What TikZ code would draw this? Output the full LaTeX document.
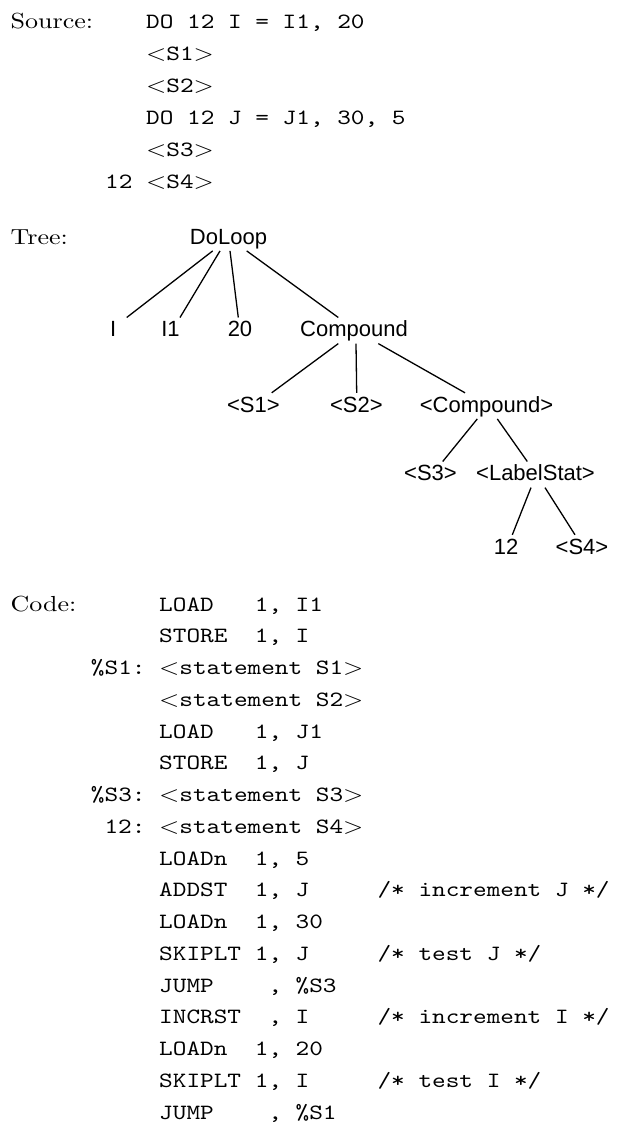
\documentclass[tikz,border=0pt]{standalone}
\usepackage{fontspec}
\usepackage{graphicx}
\newfontfamily\treefont{Liberation Sans}
\newcommand\myxs{2.6}
\newcommand\myys{2.18}
\newcommand\rmtxt[1]{\scalebox{\myxs}[\myys]{\rmfamily #1}}
\newcommand\ttline[1]{\scalebox{\myxs}[\myys]{\ttfamily #1}}
\newcommand\lt{\char"003C\relax}
\newcommand\gt{\char"003E\relax}
\tikzset{
  lbl/.style={anchor=base west, inner sep=0pt, font=\fontsize{10}{12}\selectfont},
  treenode/.style={anchor=base, inner sep=0pt, text height=19pt, text depth=6.7pt,
    font=\treefont\fontsize{22}{26}\selectfont},
  edge/.style={line width=1.3pt, black}
}
\begin{document}
\begin{tikzpicture}[x=1pt,y=-1pt]
\useasboundingbox (0,0) rectangle (621,1128);
% ---------- Source ----------
\node[lbl] (srclbl) at (10.5,28.5) {\rmtxt{Source:}};
\node[lbl] (src1) at (146,28.5)  {\ttline{DO\ 12\ I\ =\ I1,\ 20}};
\node[lbl] (src2) at (146,60.4)  {\ttline{$<$S1$>$}};
\node[lbl] (src3) at (146,92.3)  {\ttline{$<$S2$>$}};
\node[lbl] (src4) at (146,124.2) {\ttline{DO\ 12\ J\ =\ J1,\ 30,\ 5}};
\node[lbl] (src5) at (146,156.1) {\ttline{$<$S3$>$}};
\node[lbl] (src6) at (105,188)   {\ttline{12\ $<$S4$>$}};
% ---------- Tree ----------
\node[lbl] (treelbl) at (10.5,244.3) {\rmtxt{Tree:}};
\node[treenode] (doloop) at (228.5,244) {DoLoop};
\node[treenode] (nI)  at (113.3,336.7) {I};
\node[treenode] (nI1) at (170.5,336.7) {I1};
\node[treenode] (n20) at (240,336.7) {20};
\node[treenode] (comp) at (354,336.7) {Compound};
\node[treenode] (s1) at (253.3,412) {\lt S1\gt};
\node[treenode] (s2) at (356.3,412) {\lt S2\gt};
\node[treenode] (comp2) at (486.5,412) {\lt Compound\gt};
\node[treenode] (s3) at (430.5,480.7) {\lt S3\gt};
\node[treenode] (lab) at (535.5,480.7) {\lt LabelStat\gt};
\node[treenode] (n12) at (506,554) {12};
\node[treenode] (s4) at (582,554) {\lt S4\gt};
\draw[edge] ([xshift=-15.8pt]doloop.south) -- ([xshift=13.4pt]nI.north);
\draw[edge] ([xshift=-8.5pt]doloop.south) -- ([xshift=9.5pt]nI1.north);
\draw[edge] ([xshift=1.5pt]doloop.south) -- ([xshift=-1.7pt]n20.north);
\draw[edge] ([xshift=18.2pt]doloop.south) -- ([xshift=-15.7pt]comp.north);
\draw[edge] ([xshift=-15.7pt]comp.south) -- ([xshift=18.4pt]s1.north);
\draw[edge] ([xshift=2pt]comp.south) -- ([xshift=0.4pt]s2.north);
\draw[edge] ([xshift=24.3pt]comp.south) -- ([xshift=-21.5pt]comp2.north);
\draw[edge] ([xshift=-9.2pt]comp2.south) -- ([xshift=12.2pt]s3.north);
\draw[edge] ([xshift=10.8pt]comp2.south) -- ([xshift=-8.2pt]lab.north);
\draw[edge] ([xshift=-4.5pt]lab.south) -- ([xshift=6.3pt]n12.north);
\draw[edge] ([xshift=9.5pt]lab.south) -- ([xshift=-7pt]s4.north);
% ---------- Code ----------
\node[lbl] (codelbl) at (10.5,611) {\rmtxt{Code:}};
\node[lbl] (c0)  at (159,611)     {\ttline{LOAD\ \ \ 1,\ I1}};
\node[lbl] (c1)  at (159,642.75)  {\ttline{STORE\ \ 1,\ I}};
\node[lbl] (c2)  at (90.75,674.5) {\ttline{\%S1:\ $<$statement\ S1$>$}};
\node[lbl] (c3)  at (159,706.25)  {\ttline{$<$statement\ S2$>$}};
\node[lbl] (c4)  at (159,738)     {\ttline{LOAD\ \ \ 1,\ J1}};
\node[lbl] (c5)  at (159,769.75)  {\ttline{STORE\ \ 1,\ J}};
\node[lbl] (c6)  at (90.75,801.5) {\ttline{\%S3:\ $<$statement\ S3$>$}};
\node[lbl] (c7)  at (90.75,833.25) {\ttline{\ 12:\ $<$statement\ S4$>$}};
\node[lbl] (c8)  at (159,865)     {\ttline{LOADn\ \ 1,\ 5}};
\node[lbl] (c9)  at (159,896.75)  {\ttline{ADDST\ \ 1,\ J\ \ \ \ \ /*\ increment\ J\ */}};
\node[lbl] (c10) at (159,928.5)   {\ttline{LOADn\ \ 1,\ 30}};
\node[lbl] (c11) at (159,960.25)  {\ttline{SKIPLT\ 1,\ J\ \ \ \ \ /*\ test\ J\ */}};
\node[lbl] (c12) at (159,992)     {\ttline{JUMP\ \ \ \ ,\ \%S3}};
\node[lbl] (c13) at (159,1023.75) {\ttline{INCRST\ \ ,\ I\ \ \ \ \ /*\ increment\ I\ */}};
\node[lbl] (c14) at (159,1055.5)  {\ttline{LOADn\ \ 1,\ 20}};
\node[lbl] (c15) at (159,1087.25) {\ttline{SKIPLT\ 1,\ I\ \ \ \ \ /*\ test\ I\ */}};
\node[lbl] (c16) at (159,1119)    {\ttline{JUMP\ \ \ \ ,\ \%S1}};
\end{tikzpicture}
\end{document}
